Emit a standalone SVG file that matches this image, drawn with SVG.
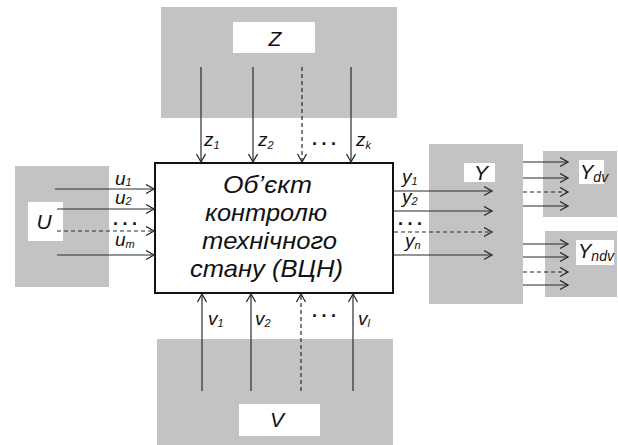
<svg xmlns="http://www.w3.org/2000/svg" width="618" height="445" viewBox="0 0 618 445">
<style>
.g{fill:#c3c3c3;stroke:none}
.w{fill:#ffffff;stroke:none}
.ln{stroke:#2a2a2a;stroke-width:1.2;fill:none;marker-end:url(#ah)}
.d{stroke-dasharray:4 3}
.t{font-family:"Liberation Sans",Arial,sans-serif;font-style:italic;fill:#111}
.lb{font-size:19px}
.sb{font-size:11px}
.big{font-size:24px}
.cap{font-size:21px}
.dots{font-family:"Liberation Sans",Arial,sans-serif;font-weight:bold;font-size:18px;letter-spacing:4.5px;fill:#111}
</style>
<defs>
<marker id="ah" markerWidth="10" markerHeight="12" refX="8.5" refY="5" orient="auto" markerUnits="userSpaceOnUse">
<path d="M0.5,0.5 L8.5,5 L0.5,9.5" fill="none" stroke="#2a2a2a" stroke-width="1.3"/>
</marker>
</defs>
<rect width="618" height="445" fill="#ffffff"/>

<g id="Z">
<rect class="g" x="161" y="7" width="236" height="111"/>
<rect class="w" x="233" y="22" width="82" height="31"/>
<text class="t cap" x="275" y="46" text-anchor="middle">Z</text>
</g>

<g id="U">
<rect class="g" x="15" y="166" width="94" height="121"/>
<rect class="w" x="28" y="202" width="35" height="39"/>
<text class="t cap" x="44" y="229" text-anchor="middle">U</text>
</g>

<g id="Y">
<rect class="g" x="429" y="144" width="94" height="160"/>
<rect class="w" x="464" y="163" width="31" height="19"/>
<text class="t cap" x="481" y="180" text-anchor="middle">Y</text>
</g>

<g id="Ydv">
<rect class="g" x="543" y="151" width="74" height="66"/>
<rect class="w" x="579" y="160" width="25" height="24"/>
<text class="t" x="580" y="179" font-size="20">Y<tspan font-size="14" dy="3">dv</tspan></text>
</g>

<g id="Yndv">
<rect class="g" x="545" y="231" width="72" height="66"/>
<rect class="w" x="576" y="240" width="38" height="25"/>
<text class="t" x="578" y="258" font-size="20">Y<tspan font-size="14" dy="3">ndv</tspan></text>
</g>

<g id="V">
<rect class="g" x="157" y="339" width="236" height="106"/>
<rect class="w" x="239" y="404" width="81" height="32"/>
<text class="t cap" x="277" y="427" text-anchor="middle">V</text>
</g>

<g id="object">
<rect x="155" y="163" width="238" height="130" fill="#ffffff" stroke="#111" stroke-width="2"/>
<text class="t big" x="223" y="193" textLength="89" lengthAdjust="spacingAndGlyphs">Об’єкт</text>
<text class="t big" x="205" y="221" textLength="122" lengthAdjust="spacingAndGlyphs">контролю</text>
<text class="t big" x="202" y="249" textLength="135" lengthAdjust="spacingAndGlyphs">технічного</text>
<text class="t big" x="190" y="277" textLength="153" lengthAdjust="spacingAndGlyphs">стану (ВЦН)</text>
</g>

<g id="connectors">
<line class="ln" x1="201" y1="67" x2="201" y2="162"/>
<line class="ln" x1="253" y1="67" x2="253" y2="162"/>
<line class="ln d" x1="302" y1="67" x2="302" y2="162"/>
<line class="ln" x1="351" y1="67" x2="351" y2="162"/>

<line class="ln" x1="55" y1="189" x2="154" y2="189"/>
<line class="ln" x1="57" y1="209" x2="154" y2="209"/>
<line class="ln d" x1="57" y1="231" x2="154" y2="231"/>
<line class="ln" x1="57" y1="255" x2="154" y2="255"/>

<line class="ln" x1="394" y1="191" x2="492" y2="191"/>
<line class="ln" x1="394" y1="211" x2="492" y2="211"/>
<line class="ln d" x1="394" y1="232" x2="492" y2="232"/>
<line class="ln" x1="394" y1="255" x2="492" y2="255"/>

<line class="ln" x1="523" y1="162" x2="568" y2="162"/>
<line class="ln" x1="523" y1="178" x2="568" y2="178"/>
<line class="ln d" x1="523" y1="192" x2="568" y2="192"/>
<line class="ln" x1="523" y1="206" x2="568" y2="206"/>

<line class="ln" x1="523" y1="244" x2="568" y2="244"/>
<line class="ln" x1="523" y1="257" x2="568" y2="257"/>
<line class="ln d" x1="523" y1="272" x2="568" y2="272"/>
<line class="ln" x1="523" y1="285" x2="568" y2="285"/>

<line class="ln" x1="202" y1="391" x2="202" y2="294"/>
<line class="ln" x1="251" y1="391" x2="251" y2="294"/>
<line class="ln d" x1="301" y1="391" x2="301" y2="294"/>
<line class="ln" x1="353" y1="391" x2="353" y2="294"/>

<text class="t lb" x="204" y="146">z<tspan class="sb" dy="3">1</tspan></text>
<text class="t lb" x="258" y="146">z<tspan class="sb" dy="3">2</tspan></text>
<text class="dots" x="312" y="145">...</text>
<text class="t lb" x="356" y="146">z<tspan class="sb" dy="3">k</tspan></text>

<text class="t lb" x="115" y="185">u<tspan class="sb" dy="1">1</tspan></text>
<text class="t lb" x="115" y="204">u<tspan class="sb" dy="1">2</tspan></text>
<text class="dots" x="113" y="225">...</text>
<text class="t lb" x="115" y="246">u<tspan class="sb" dy="2">m</tspan></text>

<text class="t lb" x="402" y="183">y<tspan class="sb" dy="2">1</tspan></text>
<text class="t lb" x="402" y="203">y<tspan class="sb" dy="2">2</tspan></text>
<text class="dots" x="398" y="225">...</text>
<text class="t lb" x="405" y="247">y<tspan class="sb" dy="2">n</tspan></text>

<text class="t lb" x="208" y="325">v<tspan class="sb" dy="2">1</tspan></text>
<text class="t lb" x="255" y="325">v<tspan class="sb" dy="2">2</tspan></text>
<text class="dots" x="312" y="317">...</text>
<text class="t lb" x="358" y="325">v<tspan class="sb" dy="2">l</tspan></text>
</g>
</svg>
